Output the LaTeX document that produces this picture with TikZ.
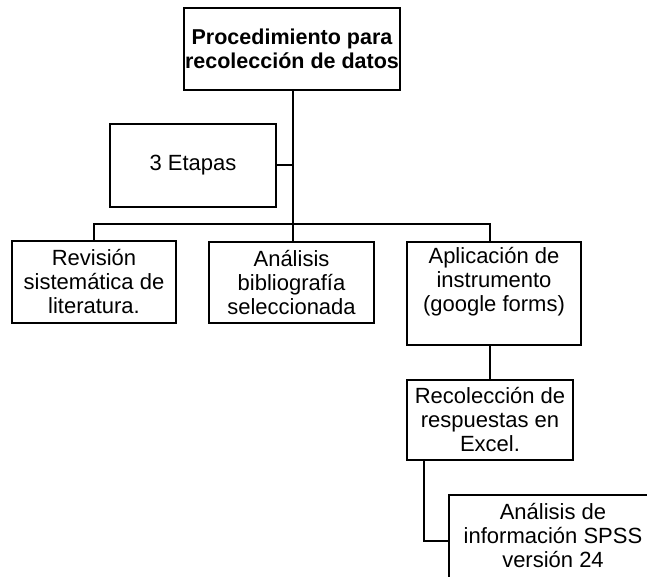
\documentclass[tikz,border=0pt]{standalone}
\usepackage{fontspec}
\setmainfont{Liberation Sans}
\begin{document}
\begin{tikzpicture}[x=1pt,y=-1pt,
  box/.style={draw=black, line width=2pt, fill=white, inner sep=0pt, align=center,
    font=\fontsize{22}{24}\selectfont},
  txt/.style={inner sep=0pt, align=center, font=\fontsize{22}{24}\selectfont},
  conn/.style={draw=black, line width=2pt}]
\useasboundingbox (0,0) rectangle (647,577);
\clip (0,0) rectangle (647,577);
\node[box, minimum width=216pt, minimum height=82pt, font=\bfseries\fontsize{21.5}{24}\selectfont] (top) at (292,49) {Procedimiento para\\recolección de datos};
\node[box, minimum width=166pt, minimum height=83pt] (et) at (193,165.5) {3 Etapas};
\node[box, minimum width=164pt, minimum height=82pt] (b1) at (94,282) {Revisión\\sistemática de\\literatura.};
\node[box, minimum width=165pt, minimum height=81pt] (b2) at (291.5,282.5) {Análisis\\bibliografía\\seleccionada};
\node[box, minimum width=174pt, minimum height=103pt] (b3) at (494,293.5) {};
\node[txt] (b3t) at (494,282) {Aplicación de\\instrumento\\(google forms)};
\node[box, minimum width=166pt, minimum height=80pt] (b4) at (490,420) {Recolección de\\respuestas en\\Excel.};
\node[box, minimum width=208pt, minimum height=88pt] (b5) at (553,539) {};
\node[txt] (b5t) at (553,536) {Análisis de\\información SPSS\\versión 24};
\coordinate (bus) at (292.5,224);
\draw[conn] ([xshift=0.5pt]top.south) -- ([xshift=1pt]b2.north);
\draw[conn] (et.east) -- (et.east -| bus);
\draw[conn] (b1.north) |- (bus) -| ([xshift=-4pt]b3.north);
\draw[conn] ([xshift=-4pt]b3.south) -- (b4.north);
\draw[conn] ([xshift=-66pt]b4.south) |- ([yshift=-2pt]b5.west);
\end{tikzpicture}
\end{document}
